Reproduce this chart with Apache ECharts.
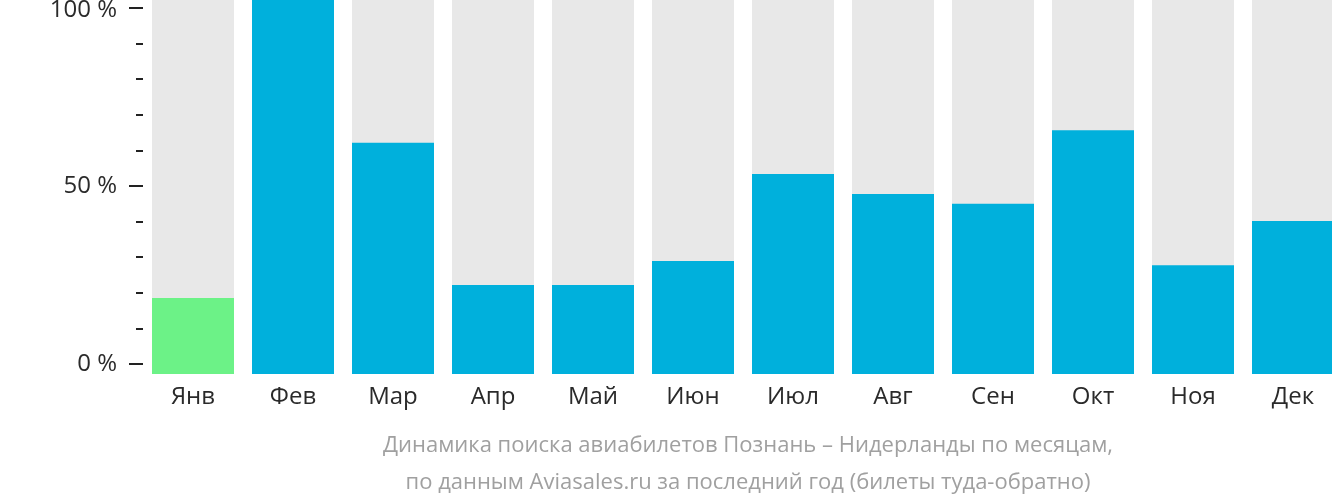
<!DOCTYPE html>
<html>
<head>
<meta charset="utf-8">
<script src="https://cdn.jsdelivr.net/npm/echarts@6/dist/echarts.min.js"></script>
<style>
html,body{margin:0;padding:0;background:#fff;}
#chart{width:1332px;height:502px;}
</style>
</head>
<body>
<div id="chart"></div>
<script>
const months = ['Янв','Фев','Мар','Апр','Май','Июн','Июл','Авг','Сен','Окт','Ноя','Дек'];
const values = [20.3, 100, 61.8, 23.8, 23.8, 30.2, 53.5, 48.1, 45.5, 65.2, 29.1, 40.9];
const highlightIndex = 0;
const yTicks = [0, 50, 100];
const subtitle = 'Динамика поиска авиабилетов Познань – Нидерланды по месяцам,\nпо данным Aviasales.ru за последний год (билеты туда-обратно)';

const FONT = '"Open Sans", sans-serif';
const chart = echarts.init(document.getElementById('chart'), null, {renderer: 'canvas'});

const barData = values.map((v, i) => ({
  value: v,
  itemStyle: {color: i === highlightIndex ? '#6cf287' : '#00b0dc'}
}));

chart.setOption({
  animation: false,
  title: {
    text: subtitle,
    left: 743,
    top: 422,
    textAlign: 'center',
    textStyle: {fontFamily: FONT, fontSize: 22, fontWeight: 'normal', color: '#a0a0a0', lineHeight: 37}
  },
  grid: [
    {left: 143, top: 0, right: -11, height: 374, outerBoundsMode: 'none', containLabel: false},
    {left: 143, top: 8, right: -11, height: 356, outerBoundsMode: 'none', containLabel: false}
  ],
  xAxis: [
    {
      gridIndex: 0, type: 'category', data: months,
      axisLine: {show: false}, axisTick: {show: false},
      axisLabel: {fontFamily: FONT, fontSize: 24, color: '#2a2a2a', margin: 11}
    },
    {gridIndex: 1, type: 'category', data: months, show: false}
  ],
  yAxis: [
    {gridIndex: 0, type: 'value', min: 0, max: 100, show: false},
    {
      gridIndex: 1, type: 'value', min: 0, max: 100, interval: 50,
      axisLine: {show: false},
      splitLine: {show: false},
      axisTick: {show: true, length: 14, lineStyle: {color: '#222', width: 2}},
      minorTick: {show: true, splitNumber: 5, length: 7, lineStyle: {color: '#222', width: 2}},
      axisLabel: {fontFamily: FONT, fontSize: 24, color: '#2a2a2a', margin: 26,
        formatter: v => !yTicks.includes(v) ? '' : (v === 100 ? '{t|' + v + ' %}' : v + ' %'),
        rich: {t: {fontFamily: FONT, fontSize: 24, color: '#2a2a2a', padding: [5, 0, 0, 0]}}
      }
    }
  ],
  series: [
    {
      type: 'bar', xAxisIndex: 0, yAxisIndex: 0,
      data: barData, barWidth: 82,
      showBackground: true,
      backgroundStyle: {color: '#e8e8e8'}
    },
    {type: 'line', xAxisIndex: 1, yAxisIndex: 1, data: []}
  ]
});
</script>
</body>
</html>
